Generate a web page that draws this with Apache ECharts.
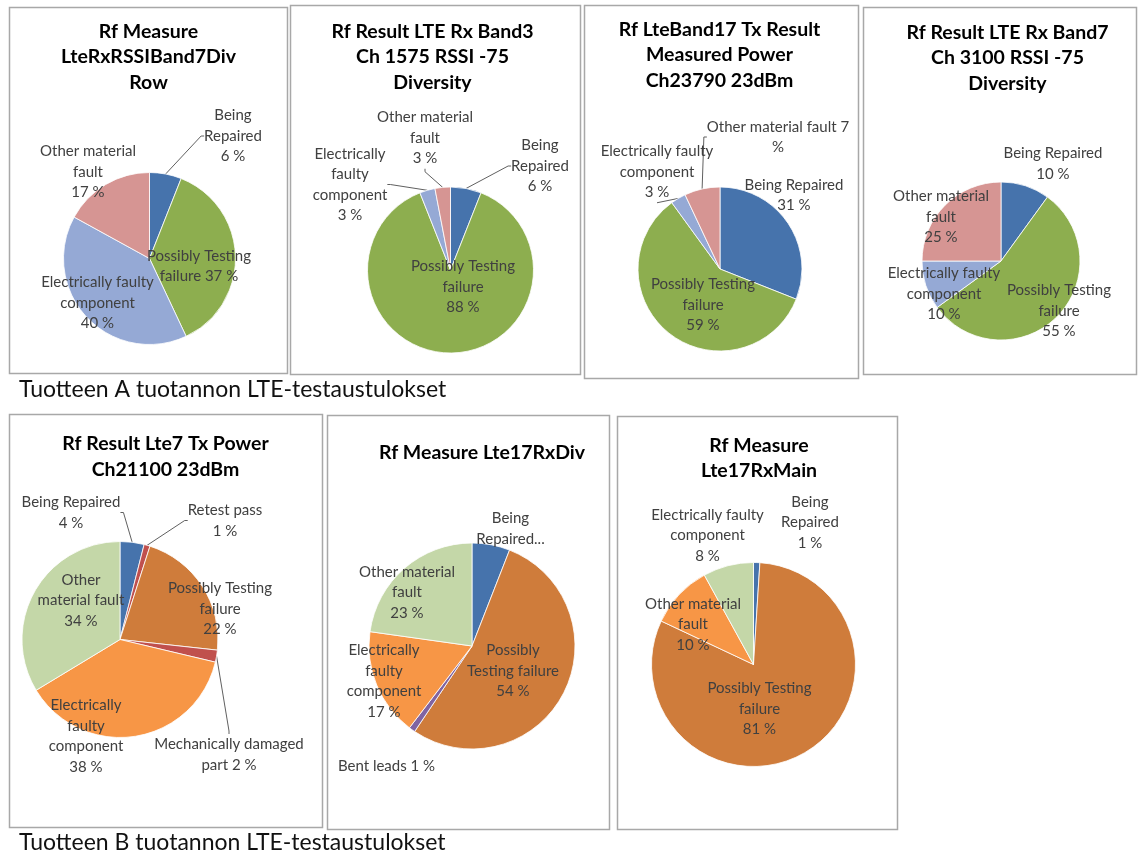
<!DOCTYPE html>
<html>
<head>
<meta charset="utf-8">
<script src="https://cdn.jsdelivr.net/npm/echarts@6/dist/echarts.min.js"></script>
<style>
  html, body { margin: 0; padding: 0; background: #fff; }
  #main { width: 1138px; height: 854px; }
</style>
</head>
<body>
<div id="main"></div>
<script>
// ---- Tuotteen A: failure shares per test step (%) ----
const catsRxRssiB7Div = ['Being Repaired', 'Possibly Testing failure', 'Electrically faulty component', 'Other material fault'];
const valsRxRssiB7Div = [6, 37, 40, 17];

const catsRxB3Div = ['Being Repaired', 'Possibly Testing failure', 'Electrically faulty component', 'Other material fault'];
const valsRxB3Div = [6, 88, 3, 3];

const catsTxB17 = ['Being Repaired', 'Possibly Testing failure', 'Electrically faulty component', 'Other material fault'];
const valsTxB17 = [31, 59, 3, 7];

const catsRxB7Div = ['Being Repaired', 'Possibly Testing failure', 'Electrically faulty component', 'Other material fault'];
const valsRxB7Div = [10, 55, 10, 25];

// ---- Tuotteen B ----
const catsTxLte7 = ['Being Repaired', 'Retest pass', 'Possibly Testing failure', 'Mechanically damaged part', 'Electrically faulty component', 'Other material fault'];
const valsTxLte7 = [4, 1, 22, 2, 38, 34];

const catsLte17RxDiv = ['Being Repaired', 'Possibly Testing failure', 'Bent leads', 'Electrically faulty component', 'Other material fault'];
const valsLte17RxDiv = [6, 54, 1, 17, 23];

const catsLte17RxMain = ['Being Repaired', 'Possibly Testing failure', 'Other material fault', 'Electrically faulty component'];
const valsLte17RxMain = [1, 81, 10, 8];

// Section captions
const captionA = 'Tuotteen A tuotannon LTE-testaustulokset';
const captionB = 'Tuotteen B tuotannon LTE-testaustulokset';

// Slice palettes
const paletteA = ['#4673AC', '#8DAE4F', '#95A9D5', '#D69593'];
const BLUE = '#4673AC', RED = '#C0504D', BROWN = '#CF7C3B', ORANGE = '#F79646', SAGE = '#C4D7A8', PURPLE = '#8064A2';

// Layout of every chart box: frame, title, pie geometry, label text wrapping and label spots
const panels = [
  {
    box: [9, 7, 287, 373], title: ['Rf Measure', 'LteRxRSSIBand7Div', 'Row'], tx: 148.5, ty: 57,
    center: [149.5, 258.5], r: 86, cats: catsRxRssiB7Div, vals: valsRxRssiB7Div, colors: paletteA,
    text: ['Being\nRepaired\n{v} %', 'Possibly Testing\nfailure {v} %', 'Electrically faulty\ncomponent\n{v} %', 'Other material\nfault\n{v} %'],
    spots: [[83.5, -122.5], [49.5, 7.5], [-52, 44.5], [-61.5, -86.5]], lines: [0]
  },
  {
    box: [290, 5, 580, 374], title: ['Rf Result LTE Rx Band3', 'Ch 1575 RSSI -75', 'Diversity'], tx: 432.5, ty: 57,
    center: [450.5, 270], r: 83, cats: catsRxB3Div, vals: valsRxB3Div, colors: paletteA,
    text: ['Being\nRepaired\n{v} %', 'Possibly Testing\nfailure\n{v} %', 'Electrically\nfaulty\ncomponent\n{v} %', 'Other material\nfault\n{v} %'],
    spots: [[89.5, -104], [12.5, 17], [-100.5, -85.5], [-25.5, -132]], lines: [0, 2, 3]
  },
  {
    box: [584, 5, 858, 378], title: ['Rf LteBand17 Tx Result', 'Measured Power', 'Ch23790 23dBm'], tx: 719.5, ty: 55,
    center: [720, 269], r: 82, cats: catsTxB17, vals: valsTxB17, colors: paletteA,
    text: ['Being Repaired\n{v} %', 'Possibly Testing\nfailure\n{v} %', 'Electrically faulty\ncomponent\n{v} %', 'Other material fault {v}\n%'],
    spots: [[74, -74], [-17, 36], [-63, -97], [58, -132]], lines: [2, 3]
  },
  {
    box: [863, 7, 1136, 374], title: ['Rf Result LTE Rx Band7', 'Ch 3100 RSSI -75', 'Diversity'], tx: 1007.5, ty: 58,
    center: [1001, 261], r: 79, cats: catsRxB7Div, vals: valsRxB7Div, colors: paletteA,
    text: ['Being Repaired\n{v} %', 'Possibly Testing\nfailure\n{v} %', 'Electrically faulty\ncomponent\n{v} %', 'Other material\nfault\n{v} %'],
    spots: [[52, -97.5], [58, 50], [-57, 33], [-60, -44]], lines: []
  },
  {
    box: [9, 414, 322, 827], title: ['Rf Result Lte7 Tx Power', 'Ch21100 23dBm'], tx: 165.5, ty: 456.5,
    center: [120, 639.5], r: 98, cats: catsTxLte7, vals: valsTxLte7, colors: [BLUE, RED, BROWN, RED, ORANGE, SAGE],
    text: ['Being Repaired\n{v} %', 'Retest pass\n{v} %', 'Possibly Testing\nfailure\n{v} %', 'Mechanically damaged\npart {v} %', 'Electrically\nfaulty\ncomponent\n{v} %', 'Other\nmaterial fault\n{v} %'],
    spots: [[-49, -127], [105, -119], [100, -30.5], [109, 115], [-34, 96.5], [-39, -39]], lines: [0, 1, 3]
  },
  {
    box: [327, 415, 609, 829], title: ['Rf Measure Lte17RxDiv'], tx: 482, ty: 453,
    center: [472, 646], r: 103, cats: catsLte17RxDiv, vals: valsLte17RxDiv, colors: [BLUE, BROWN, PURPLE, ORANGE, SAGE],
    text: ['Being\nRepaired...', 'Possibly\nTesting failure\n{v} %', 'Bent leads {v} %', 'Electrically\nfaulty\ncomponent\n{v} %', 'Other material\nfault\n{v} %'],
    spots: [[38.5, -117.5], [41, 25], [-85.5, 120], [-88, 35], [-65, -53.5]], lines: []
  },
  {
    box: [617, 416, 897, 829], title: ['Rf Measure', 'Lte17RxMain'], tx: 759, ty: 458,
    center: [753.5, 664.5], r: 102, cats: catsLte17RxMain, vals: valsLte17RxMain, colors: [BLUE, BROWN, ORANGE, SAGE],
    text: ['Being\nRepaired\n{v} %', 'Possibly Testing\nfailure\n{v} %', 'Other material\nfault\n{v} %', 'Electrically faulty\ncomponent\n{v} %'],
    spots: [[56.5, -142], [6, 44.5], [-60.5, -40], [-46, -129]], lines: []
  }
];

const FONT = 'Lato, "Open Sans", sans-serif';

const graphics = [];
panels.forEach(p => {
  const [x0, y0, x1, y1] = p.box;
  graphics.push({
    type: 'rect', z: 0, silent: true,
    shape: { x: x0 + 0.5, y: y0 + 0.5, width: x1 - x0, height: y1 - y0 },
    style: { fill: '#fff', stroke: '#a8a8a8', lineWidth: 1.5 }
  });
  graphics.push({
    type: 'text', z: 1, silent: true, x: p.tx, y: p.ty,
    style: {
      text: p.title.join('\n'), fill: '#000', fontFamily: FONT, fontWeight: 'bold', fontSize: 19.5,
      lineHeight: 25.5, align: 'center', verticalAlign: 'middle'
    }
  });
});
[[captionA, 390], [captionB, 843]].forEach(([txt, y]) => {
  graphics.push({
    type: 'text', z: 1, silent: true, x: 19, y: y,
    style: { text: txt, fill: '#111', fontFamily: FONT, fontSize: 23, align: 'left', verticalAlign: 'middle' }
  });
});

const series = panels.map(p => ({
  type: 'pie',
  center: p.center,
  radius: p.r,
  startAngle: 90,
  clockwise: true,
  avoidLabelOverlap: false,
  silent: true,
  animation: false,
  itemStyle: { borderColor: '#ffffff', borderWidth: 0.8 },
  label: {
    show: true,
    position: 'outside',
    color: '#404040',
    fontFamily: FONT,
    fontSize: 15,
    lineHeight: 20.5,
    align: 'center',
    formatter: prm => p.text[prm.dataIndex].replace('{v}', prm.value)
  },
  labelLine: { show: true, length: 6, length2: 3, smooth: false, lineStyle: { color: '#606060', width: 1 } },
  labelLayout: prm => ({
    x: p.center[0] + p.spots[prm.dataIndex][0],
    y: p.center[1] + p.spots[prm.dataIndex][1],
    align: 'center',
    verticalAlign: 'middle'
  }),
  data: p.cats.map((name, i) => ({
    name: name,
    value: p.vals[i],
    itemStyle: { color: p.colors[i] },
    labelLine: { show: p.lines.indexOf(i) >= 0 }
  }))
}));

const chart = echarts.init(document.getElementById('main'), null, { renderer: 'canvas' });
chart.setOption({
  backgroundColor: '#ffffff',
  animation: false,
  graphic: { elements: graphics },
  series: series
});
</script>
</body>
</html>
